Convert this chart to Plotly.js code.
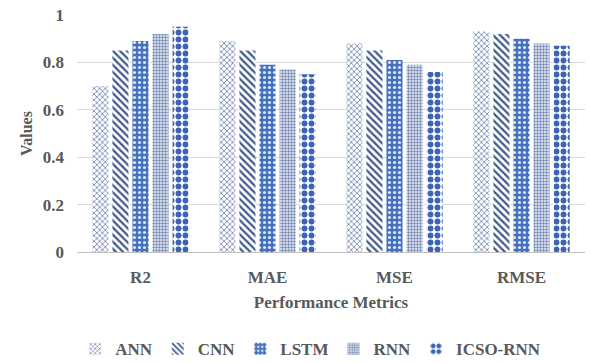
<!DOCTYPE html>
<html>
<head>
<meta charset="utf-8">
<script src="https://cdn.plot.ly/plotly-3.0.1.min.js"></script>
<style>html,body{margin:0;padding:0;background:#fff;}#chart{width:590px;height:363px;}</style>
</head>
<body>
<div id="chart"></div>
<script>
const categories = ["R2", "MAE", "MSE", "RMSE"];
const seriesNames = ["ANN", "CNN", "LSTM", "RNN", "ICSO-RNN"];
const annValues  = [0.70, 0.89, 0.88, 0.93];
const cnnValues  = [0.85, 0.85, 0.85, 0.92];
const lstmValues = [0.89, 0.79, 0.81, 0.90];
const rnnValues  = [0.92, 0.77, 0.79, 0.88];
const icsoValues = [0.95, 0.75, 0.76, 0.87];
const yTickVals = [0, 0.2, 0.4, 0.6, 0.8, 1];
const yTickText = ["0", "0.2", "0.4", "0.6", "0.8", "1"];

const allValues = [annValues, cnnValues, lstmValues, rnnValues, icsoValues];
const patterns = [
  {shape: "x", fgcolor: "#7a8db8", bgcolor: "#ffffff", size: 4, solidity: 0.4},
  {shape: "\\", fgcolor: "#40598c", bgcolor: "#ffffff", size: 5, solidity: 0.45},
  {shape: ".", fgcolor: "#dfe6f3", bgcolor: "#4470c0", size: 5, solidity: 0.3},
  {shape: ".", fgcolor: "#7286b4", bgcolor: "#eef1f7", size: 3, solidity: 0.5},
  {shape: ".", fgcolor: "#3c63b4", bgcolor: "#ffffff", size: 7, solidity: 0.55}
];

const font = "Liberation Serif, Times New Roman, serif";
const traces = seriesNames.map((name, i) => ({
  type: "bar",
  name: name,
  x: categories,
  y: allValues[i],
  marker: {color: patterns[i].bgcolor, pattern: patterns[i], line: {width: 0}},
  hoverinfo: "x+y+name"
}));

const layout = {
  width: 590, height: 363,
  margin: {l: 77, r: 5, t: 15, b: 111},
  paper_bgcolor: "#ffffff",
  plot_bgcolor: "#ffffff",
  barmode: "group",
  bargap: 0.21,
  bargroupgap: 0.2,
  font: {family: font, color: "#595959"},
  xaxis: {
    automargin: false,
    tickfont: {family: font, size: 17, color: "#595959", weight: "bold"},
    showline: true, linecolor: "#bfbfbf", linewidth: 1,
    ticks: "", showgrid: false,
    ticklabelstandoff: 10,
    title: {text: "<b>Performance Metrics</b>", font: {family: font, size: 17, color: "#595959"}, standoff: 9}
  },
  yaxis: {
    automargin: false,
    range: [0, 1],
    tickvals: yTickVals, ticktext: yTickText,
    tickfont: {family: font, size: 17, color: "#595959", weight: "bold"},
    showgrid: true, gridcolor: "#d9d9d9", gridwidth: 1,
    zeroline: false, showline: false,
    ticklabelstandoff: 12,
    title: {text: "<b>Values</b>", font: {family: font, size: 16, color: "#595959"}, standoff: 6}
  },
  legend: {
    orientation: "h", x: 0.46, xanchor: "center",
    yref: "container", y: 0.038, yanchor: "middle",
    font: {family: font, size: 17, color: "#595959", weight: "bold"},
    itemwidth: 30, tracegroupgap: 0
  },
  showlegend: true
};

Plotly.newPlot("chart", traces, layout, {displayModeBar: false, staticPlot: true});
</script>
</body>
</html>
